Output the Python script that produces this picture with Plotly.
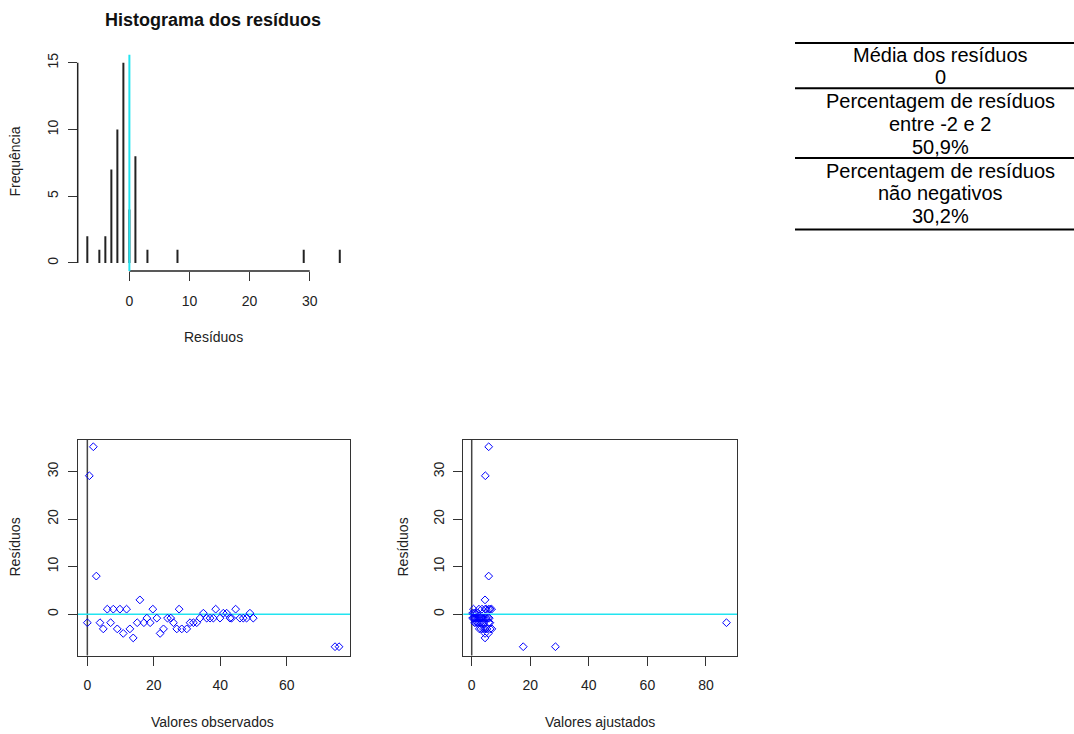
import plotly.graph_objects as go

# Frequency of rounded residuals
hist_values = [-7, -5, -4, -3, -2, -1, 0, 1, 3, 8, 29, 35]
hist_counts = [2, 1, 2, 7, 10, 15, 4, 8, 1, 1, 1, 1]

# Observed values, fitted values and residuals (one entry per observation)
observed = [0.0, 0.6, 1.8, 2.7, 3.8, 4.8, 6.0, 7.0, 7.8, 9.0,
            9.8, 10.8, 11.8, 12.8, 13.8, 15.0, 15.8, 17.0, 17.9, 18.9,
            19.7, 20.9, 21.9, 22.9, 24.1, 25.1, 25.9, 26.9, 27.6, 28.4,
            29.9, 30.9, 31.9, 32.9, 33.9, 34.9, 35.9, 36.9, 37.9, 38.6,
            39.9, 40.9, 41.9, 42.9, 43.4, 44.6, 45.9, 46.9, 47.9, 48.9,
            49.9, 74.5, 75.7]
residuals = [-1.8, 29.1, 35.2, 8.0, -1.8, -3.1, 1.05, -1.8, 1.05, -3.1,
             1.05, -4.05, 1.05, -3.1, -5.0, -1.8, 3.0, -1.8, -0.84, -1.8,
             1.05, -0.84, -4.05, -3.1, -0.84, -0.84, -1.8, -3.1, 1.05, -3.1,
             -3.1, -1.8, -1.8, -1.8, -0.84, 0.2, -0.84, -0.84, -0.84, 1.05,
             -0.84, 0.2, 0.2, -0.84, -0.84, 1.05, -0.84, -0.84, -0.84, 0.2,
             -0.84, -6.85, -6.85]
fitted = [87.0, 4.65, 5.8, 5.8, 1.0, 2.6, 0.6, 1.5, 2.5, 3.2,
          3.5, 4.55, 4.6, 4.0, 4.55, 2.0, 4.55, 2.5, 0.3, 3.0,
          5.0, 0.6, 5.7, 4.6, 0.9, 1.2, 3.6, 5.2, 5.8, 6.3,
          6.9, 4.2, 5.8, 6.2, 1.6, 0.3, 2.0, 2.4, 2.8, 6.3,
          3.2, 0.8, 1.2, 3.6, 4.0, 6.8, 4.4, 4.9, 5.5, 1.8,
          6.0, 17.6, 28.6]

# Summary table lines
table_rows = [
    ["Média dos resíduos", "0"],
    ["Percentagem de resíduos", "entre -2 e 2", "50,9%"],
    ["Percentagem de resíduos", "não negativos", "30,2%"],
]

W, H = 1074, 734
FONT = "Liberation Sans, Arial, Helvetica, sans-serif"
AXC = "#333333"


def px_x(p):
    return p / W


def px_y(p):
    return 1 - p / H


fig = go.Figure()

# Histogram as vertical spikes
hx, hy = [], []
for v, c in zip(hist_values, hist_counts):
    hx += [v, v, None]
    hy += [0, c, None]
fig.add_trace(go.Scatter(x=hx, y=hy, mode="lines", line=dict(color="#222222", width=2),
                         xaxis="x", yaxis="y", hoverinfo="skip", showlegend=False))

marker = dict(symbol="diamond-open", size=6, color="#0000ff", line=dict(width=1, color="#0000ff"))
fig.add_trace(go.Scatter(x=observed, y=residuals, mode="markers", marker=marker,
                         xaxis="x2", yaxis="y2", showlegend=False))
fig.add_trace(go.Scatter(x=fitted, y=residuals, mode="markers", marker=marker,
                         xaxis="x3", yaxis="y3", showlegend=False))

tickfont = dict(family=FONT, size=14, color="#222222")
common = dict(ticks="outside", ticklen=9, tickcolor=AXC, tickwidth=1, tickfont=tickfont,
              showgrid=False, zeroline=False)
xcommon = dict(ticklabelstandoff=8, **common)
ycommon = dict(ticklabelstandoff=4, tickangle=-90, **common)

dom_hist_x = [px_x(77.7), px_x(350)]
dom_hist_y = [px_y(269.7), px_y(53)]
dom_bl_x = [px_x(77.7), px_x(350)]
dom_b_y = [px_y(655.3), px_y(439.3)]
dom_br_x = [px_x(463.3), px_x(737.3)]

fig.update_layout(
    width=W, height=H,
    margin=dict(l=0, r=0, t=0, b=0),
    paper_bgcolor="white", plot_bgcolor="white",
    xaxis=dict(domain=dom_hist_x, range=[-8.6, 36.7], tickvals=[0, 10, 20, 30],
               showline=False, anchor="y", **xcommon),
    yaxis=dict(domain=dom_hist_y, range=[-0.6, 15.6], tickvals=[0, 5, 10, 15],
               showline=False, anchor="x", **ycommon),
    xaxis2=dict(domain=dom_bl_x, range=[-2.9, 79.0], tickvals=[0, 20, 40, 60],
                showline=True, linecolor=AXC, linewidth=1, mirror=True, anchor="y2", **xcommon),
    yaxis2=dict(domain=dom_b_y, range=[-8.7, 36.6], tickvals=[0, 10, 20, 30],
                showline=True, linecolor=AXC, linewidth=1, mirror=True, anchor="x2", **ycommon),
    xaxis3=dict(domain=dom_br_x, range=[-2.87, 90.7], tickvals=[0, 20, 40, 60, 80],
                showline=True, linecolor=AXC, linewidth=1, mirror=True, anchor="y3", **xcommon),
    yaxis3=dict(domain=dom_b_y, range=[-8.7, 36.6], tickvals=[0, 10, 20, 30],
                showline=True, linecolor=AXC, linewidth=1, mirror=True, anchor="x3", **ycommon),
)

shapes = []
# Histogram axis lines spanning first to last tick
shapes.append(dict(type="line", xref="x", yref="y domain", x0=0, x1=30, y0=0, y1=0,
                   line=dict(color="#222222", width=1.5)))
shapes.append(dict(type="line", xref="x domain", yref="y", x0=0, x1=0, y0=0, y1=15,
                   line=dict(color="#222222", width=1.5)))
# Reference lines
shapes.append(dict(type="line", xref="x", yref="y domain", x0=0, x1=0, y0=0, y1=1,
                   line=dict(color="#22e4f0", width=2)))
for xa, ya in (("x2", "y2"), ("x3", "y3")):
    shapes.append(dict(type="line", xref=xa, yref=ya + " domain", x0=0, x1=0, y0=0, y1=1,
                       line=dict(color="#444444", width=1.5), layer="below"))
    shapes.append(dict(type="line", xref=xa + " domain", yref=ya, x0=0, x1=1, y0=0, y1=0,
                       line=dict(color="#22e4f0", width=1.5), layer="below"))

# Table rules
for yp in (41, 86.5, 156.5, 228):
    shapes.append(dict(type="line", xref="paper", yref="paper", x0=px_x(795), x1=1.0,
                       y0=px_y(yp), y1=px_y(yp), line=dict(color="black", width=2)))
fig.update_layout(shapes=shapes)

ann = []
title_font = dict(family=FONT, size=14, color="#222222")
ann.append(dict(text="<b>Histograma dos resíduos</b>", x=px_x(213), y=px_y(18), xref="paper", yref="paper",
                showarrow=False, xanchor="center", yanchor="middle",
                font=dict(family=FONT, size=18, color="#111111")))
ann.append(dict(text="Frequência", x=px_x(15), y=px_y(160), textangle=-90))
ann.append(dict(text="Resíduos", x=px_x(213), y=px_y(336)))
ann.append(dict(text="Resíduos", x=px_x(15), y=px_y(547), textangle=-90))
ann.append(dict(text="Valores observados", x=px_x(212), y=px_y(722)))
ann.append(dict(text="Resíduos", x=px_x(403), y=px_y(547), textangle=-90))
ann.append(dict(text="Valores ajustados", x=px_x(600), y=px_y(722)))
for a in ann[1:]:
    a.update(xref="paper", yref="paper", showarrow=False, xanchor="center", yanchor="middle",
             font=title_font)

line_y = [[53, 75], [99, 122, 145], [169, 192, 215]]
for row, ys in zip(table_rows, line_y):
    for txt, yp in zip(row, ys):
        ann.append(dict(text=txt, x=px_x(940), y=px_y(yp), xref="paper", yref="paper",
                        showarrow=False, xanchor="center", yanchor="middle",
                        font=dict(family=FONT, size=20, color="black")))
fig.update_layout(annotations=ann)

fig.write_html("out.html")
